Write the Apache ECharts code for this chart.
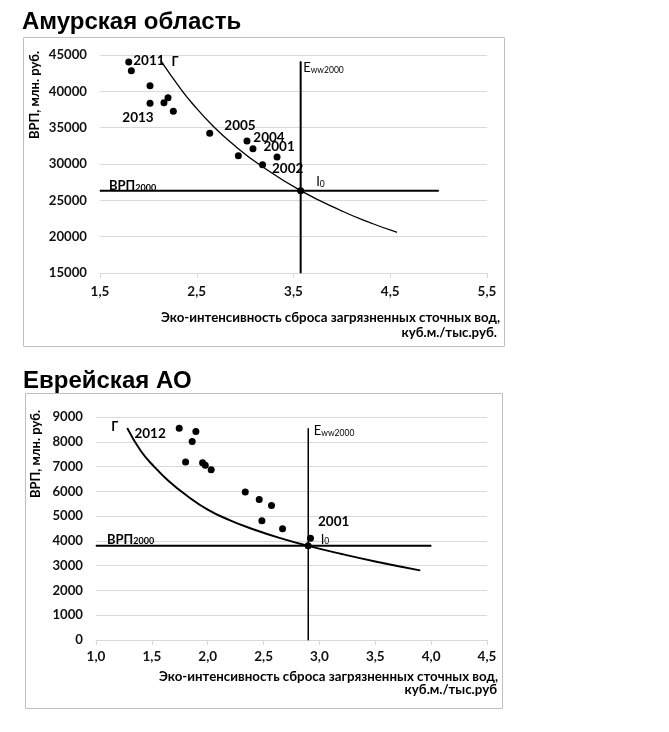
<!DOCTYPE html>
<html>
<head>
<meta charset="utf-8">
<script src="https://cdn.jsdelivr.net/npm/echarts@6/dist/echarts.min.js"></script>
<style>html,body{margin:0;padding:0;background:#fff}#c{width:669px;height:732px}</style>
</head>
<body>
<div id="c"></div>
<script>
// ---------- Data: Амурская область ----------
const topIntensity = [1.797, 1.824, 2.017, 2.017, 2.161, 2.203, 2.258, 2.634, 3.019, 3.081, 2.93, 3.18, 3.33];
const topGRP       = [44040, 42840, 40780, 38350, 38440, 39130, 37250, 34230, 33170, 32110, 31150, 29900, 30970];
const topYears     = ['2011', '', '', '2013', '', '', '', '', '2005', '2004', '', '2002', '2001'];
const topI0        = [3.574, 26330];
const topEww2000   = 3.574;
const topEwwRange  = [15000, 44100];
const topVRP2000   = 26330;
const topVRPRange  = [1.5, 5.0];
const topCurveX    = [2.13, 2.33, 2.45, 2.67, 2.9, 3.15, 3.574, 4.0, 4.3, 4.566];
const topCurveY    = [44200, 40400, 38400, 35200, 32450, 29900, 26330, 23530, 21880, 20610];
const topXTicks    = {min: 1.5, max: 5.5, step: 1};
const topYTicks    = {min: 15000, max: 45000, step: 5000};

// ---------- Data: Еврейская АО ----------
const botIntensity = [1.745, 1.894, 1.861, 1.802, 1.954, 1.978, 2.031, 2.336, 2.461, 2.571, 2.485, 2.67, 2.92];
const botGRP       = [8550, 8415, 8010, 7180, 7150, 7055, 6870, 5970, 5675, 5430, 4810, 4490, 4110];
const botYears     = ['2012', '', '', '', '', '', '', '', '', '', '', '', '2001'];
const botI0        = [2.899, 3800];
const botEww2000   = 2.90;
const botEwwRange  = [0, 8540];
const botVRP2000   = 3800;
const botVRPRange  = [1.0, 4.0];
const botCurveX    = [1.28, 1.4, 1.52, 1.65, 1.8, 2.0, 2.2, 2.4, 2.65, 2.899, 3.2, 3.5, 3.9];
const botCurveY    = [8550, 7640, 7000, 6420, 5870, 5260, 4830, 4480, 4110, 3800, 3470, 3170, 2810];
const botXTicks    = {min: 1.0, max: 4.5, step: 0.5};
const botYTicks    = {min: 0, max: 9000, step: 1000};

// ---------- Styles ----------
const FONT = 'Lato';
const INK = '#000';
const yearLabelStyle = {
  '2011': {position: 'right', offset: [-4, -1]},
  '2013': {position: 'bottom', offset: [-12, -1]},
  '2005': {position: 'top', offset: [-7, 0]},
  '2004': {position: 'top', offset: [16, 4]},
  '2001': {position: 'top', offset: [2, 5]},
  '2002': {position: 'right', offset: [1, 4]}
};
const botYearLabelStyle = {
  '2012': {position: 'left', offset: [-5, 5]},
  '2001': {position: 'right', offset: [-1, -17]}
};
const subRich = {
  b: {fontFamily: FONT, fontSize: 13, fontWeight: 'bold', color: INK, lineHeight: 16, verticalAlign: 'bottom'},
  n: {fontFamily: FONT, fontSize: 13, color: INK, lineHeight: 16, verticalAlign: 'bottom'},
  s: {fontFamily: FONT, fontSize: 8.5, color: INK, lineHeight: 12, verticalAlign: 'bottom'},
  sb: {fontFamily: FONT, fontSize: 9, fontWeight: 'bold', color: INK, lineHeight: 12, verticalAlign: 'bottom'}
};

function pts(xs, ys) { return xs.map((x, i) => [x, ys[i]]); }
function scatterData(xs, ys, years, styles) {
  return xs.map((x, i) => {
    const item = {value: [x, ys[i]]};
    const yr = years[i];
    if (yr) {
      const st = styles[yr];
      item.label = {show: true, formatter: yr, position: st.position, offset: st.offset,
        fontFamily: FONT, fontSize: 13.5, fontWeight: 'bold', color: INK, opacity: 1};
    }
    return item;
  });
}
const comma = v => v.toFixed(1).replace('.', ',');
const plain = v => String(v);

function xAxisCfg(idx, t, margin) {
  return {
    type: 'value', gridIndex: idx, min: t.min, max: t.max, interval: t.step,
    axisLine: {show: true, onZero: false, lineStyle: {color: '#d9d9d9', width: 1}},
    axisTick: {show: true, length: 5, lineStyle: {color: '#d9d9d9'}},
    splitLine: {show: false},
    axisLabel: {formatter: comma, fontFamily: FONT, fontSize: 13.5, fontWeight: 'bold', color: '#111', margin: margin}
  };
}
function yAxisCfg(idx, t) {
  return {
    type: 'value', gridIndex: idx, min: t.min, max: t.max, interval: t.step,
    axisLine: {show: false}, axisTick: {show: false},
    splitLine: {show: true, lineStyle: {color: '#d9d9d9', width: 1}},
    axisLabel: {formatter: plain, fontFamily: FONT, fontSize: 13.2, fontWeight: 'bold', color: '#111', margin: 13}
  };
}
function lineSeries(idx, data, width, labelIndex, label, smooth) {
  return {
    type: 'line', xAxisIndex: idx, yAxisIndex: idx, smooth: smooth ? true : false,
    symbol: 'circle', symbolSize: 1, showSymbol: true, animation: false,
    itemStyle: {color: '#000'}, lineStyle: {color: '#000', width: width},
    data: data.map((p, i) => i === labelIndex ? {value: p, label: Object.assign({show: true}, label)} : {value: p}),
    z: 3
  };
}
function dots(idx, data) {
  return {type: 'scatter', xAxisIndex: idx, yAxisIndex: idx, symbolSize: 7,
    itemStyle: {color: '#000', opacity: 1}, z: 5, data: data};
}

const titleStyle = {fontFamily: 'Liberation Sans', fontSize: 24, fontWeight: 'bold', color: '#000'};
const axisNameFont = 'bold 13.3px Lato';

const option = {
  animation: false,
  backgroundColor: '#fff',
  title: [
    {text: 'Амурская область', left: 17, top: 5, textStyle: titleStyle},
    {text: 'Еврейская АО', left: 18, top: 364, textStyle: titleStyle}
  ],
  grid: [
    {left: 100, top: 55, width: 387, height: 218},
    {left: 96, top: 417, width: 391, height: 223}
  ],
  xAxis: [xAxisCfg(0, topXTicks, 12), xAxisCfg(1, botXTicks, 10)],
  yAxis: [yAxisCfg(0, topYTicks), yAxisCfg(1, botYTicks)],
  graphic: [
    {type: 'rect', shape: {x: 23.5, y: 37.5, width: 481, height: 309}, style: {fill: 'none', stroke: '#bfbfbf', lineWidth: 1}, silent: true},
    {type: 'rect', shape: {x: 25.5, y: 393.5, width: 477, height: 315}, style: {fill: 'none', stroke: '#bfbfbf', lineWidth: 1}, silent: true},
    {type: 'text', x: 35, y: 95, rotation: Math.PI / 2,
      style: {text: 'ВРП, млн. руб.', font: 'bold 13px Lato', fill: INK, textAlign: 'center', textVerticalAlign: 'middle'}},
    {type: 'text', x: 36, y: 454, rotation: Math.PI / 2,
      style: {text: 'ВРП, млн. руб.', font: 'bold 13px Lato', fill: INK, textAlign: 'center', textVerticalAlign: 'middle'}},
    {type: 'text', x: 500, y: 318,
      style: {text: 'Эко-интенсивность сброса загрязненных сточных вод,', font: axisNameFont, fill: INK, textAlign: 'right', textVerticalAlign: 'middle'}},
    {type: 'text', x: 497, y: 333,
      style: {text: 'куб.м./тыс.руб.', font: axisNameFont, fill: INK, textAlign: 'right', textVerticalAlign: 'middle'}},
    {type: 'text', x: 498, y: 677,
      style: {text: 'Эко-интенсивность сброса загрязненных сточных вод,', font: axisNameFont, fill: INK, textAlign: 'right', textVerticalAlign: 'middle'}},
    {type: 'text', x: 497, y: 690,
      style: {text: 'куб.м./тыс.руб', font: axisNameFont, fill: INK, textAlign: 'right', textVerticalAlign: 'middle'}}
  ],
  series: [
    // ---- top chart ----
    lineSeries(0, pts(topCurveX, topCurveY), 1.3, 0,
      {position: 'right', offset: [5, 1], formatter: 'Г', fontFamily: FONT, fontSize: 13, fontWeight: 'bold', color: INK}, true),
    lineSeries(0, [[topEww2000, topEwwRange[0]], [topEww2000, topEwwRange[1]]], 2, 1,
      {position: 'right', offset: [-3, 5], formatter: '{n|E}{s|ww2000}', rich: subRich}),
    lineSeries(0, [[topVRPRange[0], topVRP2000], [topVRPRange[1], topVRP2000]], 2, 0,
      {position: 'right', offset: [3.5, -6], formatter: '{b|ВРП}{sb|2000}', rich: subRich}),
    dots(0, scatterData(topIntensity, topGRP, topYears, yearLabelStyle)),
    dots(0, [{value: topI0, label: {show: true, position: 'right', offset: [7, -10], formatter: '{n|I}{s|0}', rich: subRich}}]),
    // ---- bottom chart ----
    lineSeries(1, pts(botCurveX, botCurveY), 2, 0,
      {position: 'left', offset: [-3.5, -1], formatter: 'Г', fontFamily: FONT, fontSize: 13, fontWeight: 'bold', color: INK}, true),
    lineSeries(1, [[botEww2000, botEwwRange[0]], [botEww2000, botEwwRange[1]]], 1.5, 1,
      {position: 'right', offset: [0, 1], formatter: '{n|E}{s|ww2000}', rich: subRich}),
    lineSeries(1, [[botVRPRange[0], botVRP2000], [botVRPRange[1], botVRP2000]], 2, 0,
      {position: 'right', offset: [5.5, -8], formatter: '{b|ВРП}{sb|2000}', rich: subRich}),
    dots(1, scatterData(botIntensity, botGRP, botYears, botYearLabelStyle)),
    dots(1, [{value: botI0, label: {show: true, position: 'right', offset: [4, -8], formatter: '{n|I}{s|0}', rich: subRich}}])
  ]
};
const chart = echarts.init(document.getElementById('c'), null, {renderer: 'canvas'});
chart.setOption(option);
</script>
</body>
</html>
